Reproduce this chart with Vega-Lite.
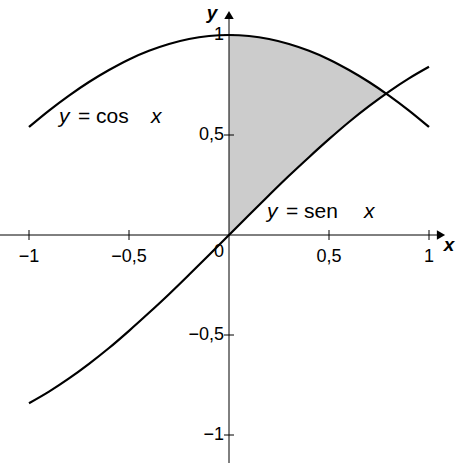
{
  "$schema": "https://vega.github.io/schema/vega-lite/v6.json",
  "width": 457,
  "height": 463,
  "autosize": "none",
  "padding": 0,
  "background": "white",
  "config": {"view": {"stroke": null}, "text": {"font": "Liberation Sans"}},
  "datasets": {
    "cos": [
      {"x": -1, "y": 0.54}, {"x": -0.9, "y": 0.622}, {"x": -0.8, "y": 0.697}, {"x": -0.7, "y": 0.765},
      {"x": -0.6, "y": 0.825}, {"x": -0.5, "y": 0.878}, {"x": -0.4, "y": 0.921}, {"x": -0.3, "y": 0.955},
      {"x": -0.2, "y": 0.98}, {"x": -0.1, "y": 0.995}, {"x": 0, "y": 1}, {"x": 0.1, "y": 0.995},
      {"x": 0.2, "y": 0.98}, {"x": 0.3, "y": 0.955}, {"x": 0.4, "y": 0.921}, {"x": 0.5, "y": 0.878},
      {"x": 0.6, "y": 0.825}, {"x": 0.7, "y": 0.765}, {"x": 0.8, "y": 0.697}, {"x": 0.9, "y": 0.622},
      {"x": 1, "y": 0.54}
    ],
    "sin": [
      {"x": -1, "y": -0.841}, {"x": -0.9, "y": -0.783}, {"x": -0.8, "y": -0.717}, {"x": -0.7, "y": -0.644},
      {"x": -0.6, "y": -0.565}, {"x": -0.5, "y": -0.479}, {"x": -0.4, "y": -0.389}, {"x": -0.3, "y": -0.296},
      {"x": -0.2, "y": -0.199}, {"x": -0.1, "y": -0.1}, {"x": 0, "y": 0}, {"x": 0.1, "y": 0.1},
      {"x": 0.2, "y": 0.199}, {"x": 0.3, "y": 0.296}, {"x": 0.4, "y": 0.389}, {"x": 0.5, "y": 0.479},
      {"x": 0.6, "y": 0.565}, {"x": 0.7, "y": 0.644}, {"x": 0.8, "y": 0.717}, {"x": 0.9, "y": 0.783},
      {"x": 1, "y": 0.841}
    ],
    "region": [
      {"x": 0, "top": 1, "bottom": 0}, {"x": 0.1, "top": 0.995, "bottom": 0.1},
      {"x": 0.2, "top": 0.98, "bottom": 0.199}, {"x": 0.3, "top": 0.955, "bottom": 0.296},
      {"x": 0.4, "top": 0.921, "bottom": 0.389}, {"x": 0.5, "top": 0.878, "bottom": 0.479},
      {"x": 0.6, "top": 0.825, "bottom": 0.565}, {"x": 0.7, "top": 0.765, "bottom": 0.644},
      {"x": 0.785, "top": 0.707, "bottom": 0.707}
    ],
    "xticks": [
      {"v": -1, "label": "−1"}, {"v": -0.5, "label": "−0,5"}, {"v": 0.5, "label": "0,5"}, {"v": 1, "label": "1"}
    ],
    "yticks": [
      {"v": 1, "label": "1"}, {"v": 0.5, "label": "0,5"}, {"v": -0.5, "label": "−0,5"}, {"v": -1, "label": "−1"}
    ]
  },
  "encoding": {
    "x": {"type": "quantitative", "scale": {"domain": [-1.145, 1.14], "nice": false, "zero": false}, "axis": null},
    "y": {"type": "quantitative", "scale": {"domain": [-1.14, 1.175], "nice": false, "zero": false}, "axis": null}
  },
  "layer": [
    {
      "data": {"name": "region"},
      "mark": {"type": "area", "color": "#cccccc", "opacity": 1},
      "encoding": {"x": {"field": "x"}, "y": {"field": "top"}, "y2": {"field": "bottom"}}
    },
    {
      "data": {"values": [{"a": -1.145, "b": 1.06}]},
      "mark": {"type": "rule", "color": "black", "strokeWidth": 1},
      "encoding": {"x": {"field": "a"}, "x2": {"field": "b"}, "y": {"datum": 0}}
    },
    {
      "data": {"values": [{"a": -1.14, "b": 1.1}]},
      "mark": {"type": "rule", "color": "black", "strokeWidth": 1},
      "encoding": {"y": {"field": "a"}, "y2": {"field": "b"}, "x": {"datum": 0}}
    },
    {
      "data": {"values": [{"x": 1.06, "y": 0}]},
      "mark": {"type": "point", "shape": "triangle-right", "filled": true, "color": "black", "size": 90, "opacity": 1},
      "encoding": {"x": {"field": "x"}, "y": {"field": "y"}}
    },
    {
      "data": {"values": [{"x": 0, "y": 1.1}]},
      "mark": {"type": "point", "shape": "triangle-up", "filled": true, "color": "black", "size": 90, "opacity": 1},
      "encoding": {"x": {"field": "x"}, "y": {"field": "y"}}
    },
    {
      "data": {"name": "xticks"},
      "mark": {"type": "rule", "color": "black"},
      "encoding": {"x": {"field": "v"}, "y": {"datum": -0.025}, "y2": {"datum": 0.025}}
    },
    {
      "data": {"name": "yticks"},
      "mark": {"type": "rule", "color": "black"},
      "encoding": {"y": {"field": "v"}, "x": {"datum": -0.025}, "x2": {"datum": 0.025}}
    },
    {
      "data": {"name": "xticks"},
      "mark": {"type": "text", "fontSize": 18, "baseline": "middle", "align": "center", "color": "black"},
      "encoding": {"x": {"field": "v"}, "y": {"datum": -0.11}, "text": {"field": "label"}}
    },
    {
      "data": {"name": "yticks"},
      "mark": {"type": "text", "fontSize": 18, "baseline": "middle", "align": "right", "color": "black"},
      "encoding": {"y": {"field": "v"}, "x": {"datum": -0.025}, "text": {"field": "label"}}
    },
    {
      "data": {"values": [{"x": -0.05, "y": -0.085, "t": "0"}]},
      "mark": {"type": "text", "fontSize": 18, "baseline": "middle", "align": "center", "color": "black"},
      "encoding": {"x": {"field": "x"}, "y": {"field": "y"}, "text": {"field": "t"}}
    },
    {
      "data": {"values": [{"x": 1.1, "y": -0.05, "t": "x"}, {"x": -0.085, "y": 1.11, "t": "y"}]},
      "mark": {"type": "text", "fontSize": 19, "fontWeight": "bold", "fontStyle": "italic", "baseline": "middle", "align": "center", "color": "black"},
      "encoding": {"x": {"field": "x"}, "y": {"field": "y"}, "text": {"field": "t"}}
    },
    {
      "data": {"values": [
        {"x": -0.85, "y": 0.59, "t": "y"}, {"x": -0.39, "y": 0.59, "t": "x"},
        {"x": 0.19, "y": 0.115, "t": "y"}, {"x": 0.675, "y": 0.115, "t": "x"}
      ]},
      "mark": {"type": "text", "fontSize": 21, "fontStyle": "italic", "baseline": "middle", "align": "left", "color": "black"},
      "encoding": {"x": {"field": "x"}, "y": {"field": "y"}, "text": {"field": "t"}}
    },
    {
      "data": {"values": [{"x": -0.755, "y": 0.59, "t": "= cos"}, {"x": 0.285, "y": 0.115, "t": "= sen"}]},
      "mark": {"type": "text", "fontSize": 21, "baseline": "middle", "align": "left", "color": "black"},
      "encoding": {"x": {"field": "x"}, "y": {"field": "y"}, "text": {"field": "t"}}
    },
    {
      "data": {"name": "cos"},
      "mark": {"type": "line", "color": "black", "strokeWidth": 2.2, "interpolate": "monotone"},
      "encoding": {"x": {"field": "x"}, "y": {"field": "y"}}
    },
    {
      "data": {"name": "sin"},
      "mark": {"type": "line", "color": "black", "strokeWidth": 2.2, "interpolate": "monotone"},
      "encoding": {"x": {"field": "x"}, "y": {"field": "y"}}
    }
  ]
}
